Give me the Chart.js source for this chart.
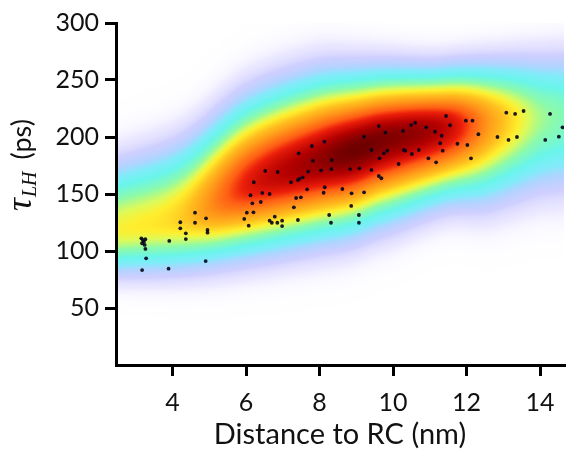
<!DOCTYPE html>
<html>
<head>
<meta charset="utf-8">
<script src="https://cdn.jsdelivr.net/npm/chart.js@4.4.0/dist/chart.umd.min.js"></script>
<style>
  html, body { margin: 0; padding: 0; background: #fff; }
  #wrap { width: 568px; height: 449px; }
</style>
</head>
<body>
<div id="wrap"><canvas id="myChart" width="568" height="449"></canvas></div>
<script>
// scatter points: distance to RC (nm) and tau_LH (ps)
var distX = [3.15,3.19,3.22,3.26,3.17,3.24,3.26,3.28,3.17,3.91,
  3.89,4.21,4.21,4.36,4.36,4.61,4.61,4.91,4.95,4.95,
  4.90,5.95,6.07,6.02,6.20,6.17,6.40,6.12,6.44,6.64,
  6.21,6.52,6.86,6.78,6.64,6.70,6.85,6.98,6.98,7.30,
  7.41,7.36,7.49,7.22,7.41,7.45,7.54,7.66,7.69,7.43,
  7.79,8.13,7.82,8.04,8.14,8.11,8.26,8.31,8.33,8.32,
  8.62,8.83,8.87,8.86,9.07,9.07,9.08,9.21,9.21,9.41,
  9.41,9.61,9.79,9.75,9.84,9.63,9.61,9.68,10.15,10.27,
  10.29,10.33,10.49,10.60,10.51,10.70,10.90,11.14,11.32,11.28,
  11.35,10.96,11.17,11.44,11.55,11.75,12.02,11.98,12.16,12.32,
  12.12,12.84,13.14,13.37,13.08,13.32,13.55,14.27,14.14,14.51,14.61];
var tauLH = [111.1,109.6,108.2,110.3,106.8,105.3,101.8,93.6,83.3,108.8,
  84.5,125.2,119.9,115.5,110.5,133.6,124.8,128.7,118.4,116.1,
  91.2,128.1,122.2,133.6,133.9,141.8,143.0,148.9,150.9,150.0,
  160.3,170.2,169.3,130.1,126.6,124.8,124.8,126.6,121.9,138.3,
  127.2,146.5,147.1,160.3,162.3,163.2,164.6,154.1,169.6,185.7,
  192.1,195.9,179.2,170.8,155.9,151.1,131.6,124.8,179.8,171.9,
  154.4,171.9,150.6,139.5,131.6,124.8,172.5,151.5,200.3,188.6,
  171.1,209.6,203.8,185.7,188.0,181.3,165.8,163.8,176.3,205.3,
  188.6,188.0,210.5,212.5,185.1,188.6,208.5,204.6,201.1,194.5,
  188.0,181.3,177.8,218.4,210.3,194.1,193.0,214.3,214.3,202.4,
  181.3,200.0,197.4,200.0,221.3,220.2,222.8,220.2,197.4,200.3,208.5];

var xTicks = [4, 6, 8, 10, 12, 14];
var yTicks = [50, 100, 150, 200, 250, 300];

var bandX      = [2.46, 4.27, 6.05, 7.86, 9.0, 9.68, 11.46, 12.81, 13.89, 14.65];
var bandCenter = [118,  130,  158,  178,  189, 197,  208,   214,   217,   219];
var bandPeak   = [0.36, 0.44, 0.78, 0.93, 1.0, 0.98, 0.85,  0.5,   0.3,   0.24];
var bandUp     = [32,   35,   38,   37,   33,  30,   26,    27,    29,    30];
var bandDown   = [21,   25,   31,   34,   35,  35,   32,    36,    36,    37];

// jet-like colour map with a fading low end
var cmap = [
  [0.000, 235,230,255, 0],
  [0.006, 230,225,255, 0.15],
  [0.020, 215,210,255, 0.5],
  [0.050, 195,195,255, 0.8],
  [0.090, 170,210,255, 0.95],
  [0.126, 130,235,250, 1],
  [0.180, 105,245,235, 1],
  [0.260, 140,250,170, 1],
  [0.330, 220,250,90, 1],
  [0.375, 255,238,45, 1],
  [0.460, 255,190,30, 1],
  [0.560, 255,150,25, 1],
  [0.680, 255,95,20, 1],
  [0.760, 235,30,10, 1],
  [0.880, 180,0,0, 1],
  [1.000, 110,0,0, 1]
];

// monotone cubic through the band knots
function makeSpline(xs, ys) {
  var n = xs.length, d = [], m = [];
  for (var i = 0; i < n - 1; i++) d.push((ys[i+1] - ys[i]) / (xs[i+1] - xs[i]));
  m[0] = d[0]; m[n-1] = d[n-2];
  for (i = 1; i < n - 1; i++) m[i] = (d[i-1] * d[i] <= 0) ? 0 : (d[i-1] + d[i]) / 2;
  for (i = 0; i < n - 1; i++) {
    if (d[i] === 0) { m[i] = 0; m[i+1] = 0; continue; }
    var a = m[i] / d[i], b = m[i+1] / d[i], s = a * a + b * b;
    if (s > 9) { var tau = 3 / Math.sqrt(s); m[i] = tau * a * d[i]; m[i+1] = tau * b * d[i]; }
  }
  return function (v) {
    if (v <= xs[0]) return ys[0];
    if (v >= xs[n-1]) return ys[n-1];
    var k = 0;
    while (v > xs[k+1]) k++;
    var h = xs[k+1] - xs[k], t = (v - xs[k]) / h, t2 = t * t, t3 = t2 * t;
    return (2*t3 - 3*t2 + 1) * ys[k] + (t3 - 2*t2 + t) * h * m[k] +
           (-2*t3 + 3*t2) * ys[k+1] + (t3 - t2) * h * m[k+1];
  };
}

function colorAt(t) {
  if (t <= 0) return [255,255,255,0];
  if (t >= 1) t = 1;
  for (var i = 1; i < cmap.length; i++) {
    if (t <= cmap[i][0]) {
      var a = cmap[i-1], b = cmap[i];
      var f = (t - a[0]) / (b[0] - a[0]);
      return [a[1]+f*(b[1]-a[1]), a[2]+f*(b[2]-a[2]), a[3]+f*(b[3]-a[3]), a[4]+f*(b[4]-a[4])];
    }
  }
  return cmap[cmap.length-1].slice(1);
}

var points = distX.map(function (x, i) { return { x: x, y: tauLH[i] }; });

var heatmap = {
  id: 'heatmap',
  beforeDraw: function (chart) {
    var a = chart.chartArea, sx = chart.scales.x, sy = chart.scales.y;
    var w = Math.round(a.right - a.left), h = Math.round(a.bottom - a.top);
    if (!this.img) {
      var fc = makeSpline(bandX, bandCenter), fp = makeSpline(bandX, bandPeak);
      var fu = makeSpline(bandX, bandUp), fd = makeSpline(bandX, bandDown);
      var off = document.createElement('canvas');
      off.width = w; off.height = h;
      var octx = off.getContext('2d');
      var id = octx.createImageData(w, h);
      for (var i = 0; i < w; i++) {
        var xv = sx.getValueForPixel(a.left + i + 0.5);
        var c = fc(xv), pk = fp(xv), up = fu(xv), dn = fd(xv);
        for (var j = 0; j < h; j++) {
          var yv = sy.getValueForPixel(a.top + j + 0.5);
          var d = yv - c;
          var s = d > 0 ? up : dn;
          var t = pk * Math.exp(-0.5 * (d / s) * (d / s));
          var col = colorAt(t);
          var k = (j * w + i) * 4;
          id.data[k] = col[0]; id.data[k+1] = col[1]; id.data[k+2] = col[2];
          id.data[k+3] = Math.round(col[3] * 255);
        }
      }
      octx.putImageData(id, 0, 0);
      this.img = off;
    }
    chart.ctx.drawImage(this.img, a.left, a.top);
  }
};

var yTitle = {
  id: 'yTitle',
  afterDraw: function (chart) {
    var ctx = chart.ctx;
    ctx.save();
    ctx.translate(31, 211);
    ctx.rotate(-Math.PI / 2);
    ctx.fillStyle = '#111';
    ctx.textBaseline = 'alphabetic';
    ctx.textAlign = 'left';
    ctx.font = 'italic 36px "Liberation Serif"';
    ctx.fillText('\u03c4', 0, 0);
    var w = ctx.measureText('\u03c4').width;
    ctx.font = 'italic 20px "Liberation Serif"';
    ctx.fillText('LH', w + 1, 5);
    w += 1 + ctx.measureText('LH').width;
    ctx.font = '27px Lato';
    ctx.fillText('(ps)', w + 12, 0);
    ctx.restore();
  }
};

var ctx = document.getElementById('myChart').getContext('2d');
var chart = new Chart(ctx, {
  type: 'scatter',
  data: {
    datasets: [{
      data: points,
      pointRadius: 1.9,
      pointBorderWidth: 0,
      pointBackgroundColor: 'rgba(8,8,30,0.92)'
    }]
  },
  options: {
    responsive: false,
    animation: false,
    devicePixelRatio: 1,
    layout: { padding: { top: 23, right: 0, left: 0, bottom: 0 } },
    plugins: { legend: { display: false }, tooltip: { enabled: false } },
    scales: {
      x: {
        type: 'linear',
        min: 2.46,
        max: 14.65,
        afterBuildTicks: function (s) { s.ticks = xTicks.map(function (v) { return { value: v }; }); },
        afterFit: function (s) { s.height = 84; },
        border: { display: true, color: '#000', width: 3 },
        grid: { display: true, drawOnChartArea: false, drawTicks: true, tickLength: 11, lineWidth: 3, color: '#000' },
        ticks: { font: { family: 'Lato', size: 25 }, color: '#111', padding: 12, maxRotation: 0, autoSkip: false },
        title: { display: true, text: 'Distance to RC (nm)', font: { family: 'Lato', size: 29 }, color: '#111', padding: { top: 0, bottom: -3 } }
      },
      y: {
        type: 'linear',
        min: 0,
        max: 300,
        afterBuildTicks: function (s) { s.ticks = yTicks.map(function (v) { return { value: v }; }); },
        afterFit: function (s) { s.width = 116; },
        border: { display: true, color: '#000', width: 3 },
        grid: { display: true, drawOnChartArea: false, drawTicks: true, tickLength: 11, lineWidth: 3, color: '#000' },
        ticks: { font: { family: 'Lato', size: 25 }, color: '#111', padding: 6, autoSkip: false }
      }
    }
  },
  plugins: [heatmap, yTitle]
});
</script>
</body>
</html>
